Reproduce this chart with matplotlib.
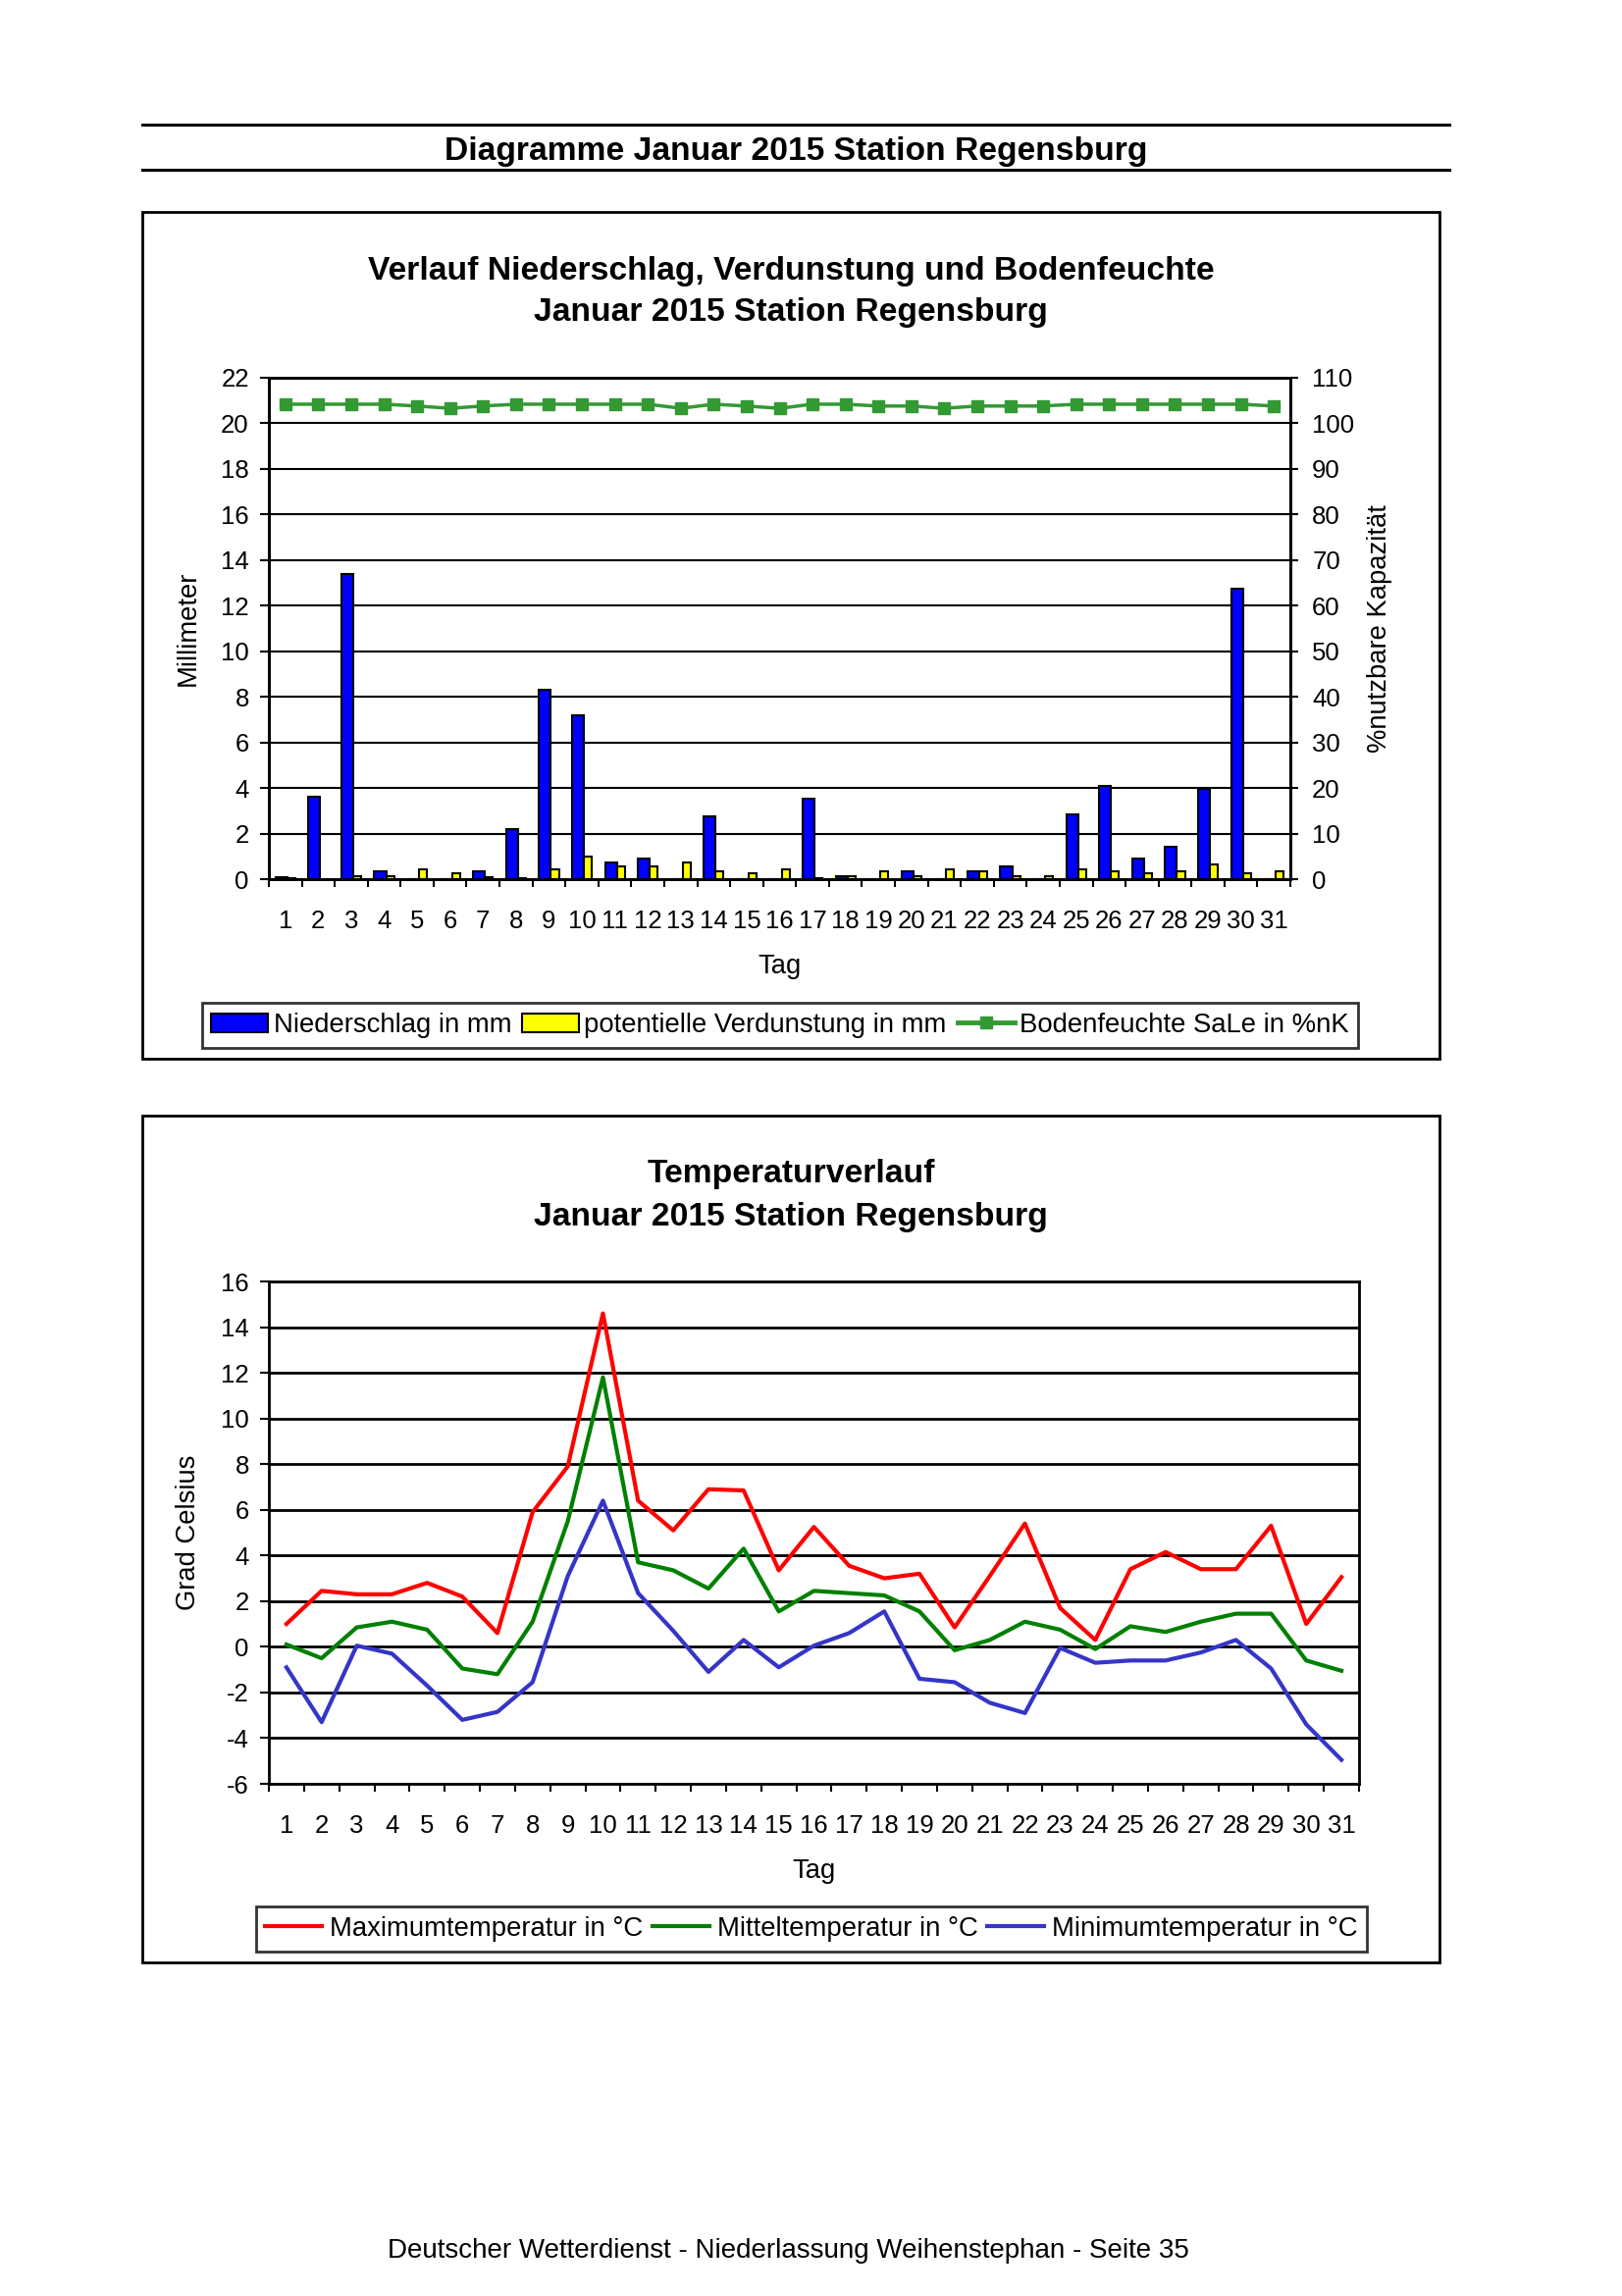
import numpy as np
import matplotlib
matplotlib.use("Agg")
import matplotlib.pyplot as plt
from matplotlib.patches import Rectangle, Patch
from matplotlib.lines import Line2D

plt.rcParams['font.family'] = ['Liberation Sans', 'DejaVu Sans']
plt.rcParams['axes.unicode_minus'] = False

# Daten Januar 2015, Station Regensburg
tage = np.arange(1, 32)
niederschlag = [0.1, 3.6, 13.4, 0.35, 0.0, 0.0, 0.35, 2.2, 8.3, 7.2, 0.75, 0.9, 0.0, 2.75, 0.0, 0.0,
                3.55, 0.15, 0.0, 0.35, 0.0, 0.35, 0.55, 0.0, 2.85, 4.1, 0.9, 1.4, 3.95, 12.75, 0.0]  # [mm]
verdunstung = [0.05, 0.0, 0.15, 0.15, 0.45, 0.25, 0.1, 0.05, 0.45, 1.0, 0.55, 0.55, 0.75, 0.35, 0.25, 0.45,
               0.05, 0.15, 0.35, 0.15, 0.45, 0.35, 0.15, 0.15, 0.45, 0.35, 0.25, 0.35, 0.65, 0.25, 0.35]  # [mm]
bodenfeuchte = [104.2, 104.2, 104.2, 104.2, 103.8, 103.3, 103.8, 104.2, 104.2, 104.2, 104.2, 104.2, 103.3,
                104.2, 103.8, 103.3, 104.2, 104.2, 103.8, 103.8, 103.3, 103.8, 103.8, 103.8, 104.2, 104.2,
                104.2, 104.2, 104.2, 104.2, 103.8]  # [%nK]

t_max = [1.0, 2.45, 2.3, 2.3, 2.8, 2.2, 0.6, 5.9, 7.9, 14.6, 6.4, 5.1, 6.9, 6.85, 3.35, 5.25,
         3.55, 3.0, 3.2, 0.85, 3.1, 5.4, 1.7, 0.3, 3.4, 4.15, 3.4, 3.4, 5.3, 1.0, 3.05]
t_mittel = [0.1, -0.5, 0.85, 1.1, 0.75, -0.95, -1.2, 1.1, 5.5, 11.8, 3.7, 3.35, 2.55, 4.3, 1.55, 2.45,
            2.35, 2.25, 1.55, -0.15, 0.3, 1.1, 0.75, -0.1, 0.9, 0.65, 1.1, 1.45, 1.45, -0.6, -1.05]
t_min = [-0.9, -3.3, 0.05, -0.3, -1.7, -3.2, -2.85, -1.55, 3.1, 6.4, 2.35, 0.7, -1.1, 0.3, -0.9, 0.05,
         0.6, 1.55, -1.4, -1.55, -2.45, -2.9, -0.05, -0.7, -0.6, -0.6, -0.25, 0.3, -0.95, -3.4, -4.95]

W, H = 1653, 2340
TICK_FS = 18.5
LABEL_FS = 19.7
LEG_FS = 19.8
TITLE_FS = 24.2


def fx(px):
    return px / W


def fy(py):
    return 1 - py / H


fig = plt.figure(figsize=(W / 100, H / 100), dpi=100)

# Kopfzeile
for yy in (127, 173):
    fig.add_artist(Line2D([fx(145), fx(1477)], [fy(yy), fy(yy)], transform=fig.transFigure,
                          color='black', lw=2.2))
fig.text(fx(811), fy(154), 'Diagramme Januar 2015 Station Regensburg', ha='center', va='center',
         fontsize=TITLE_FS, fontweight='bold')

# Rahmen
for top, bot in ((216, 1079), (1137, 2000)):
    fig.add_artist(Rectangle((fx(145), fy(bot)), (1467 - 145) / W, (bot - top) / H,
                             transform=fig.transFigure, fill=False, edgecolor='black', lw=2))

# ---------- Diagramm 1: Niederschlag, Verdunstung, Bodenfeuchte ----------
fig.text(fx(806), fy(276), 'Verlauf Niederschlag, Verdunstung und Bodenfeuchte', ha='center',
         va='center', fontsize=TITLE_FS, fontweight='bold')
fig.text(fx(806), fy(319), 'Januar 2015 Station Regensburg', ha='center', va='center',
         fontsize=TITLE_FS, fontweight='bold')

ax1 = fig.add_axes([fx(274), fy(896), (1315 - 274) / W, (896 - 385) / H])
ax1.bar(tage - 0.12, niederschlag, width=0.36, color='#0000ff', edgecolor='black', linewidth=1.5, zorder=3)
ax1.bar(tage + 0.18, verdunstung, width=0.24, color='#ffff00', edgecolor='black', linewidth=1.5, zorder=3)
ax1.set_xlim(0.5, 31.5)
ax1.set_ylim(0, 22)
ax1.set_yticks(np.arange(0, 23, 2))
ax1.set_xticks(tage)
ax1.set_xticks(np.arange(0.5, 32, 1), minor=True)
ax1.yaxis.grid(True, color='black', linewidth=1.5)
ax1.set_axisbelow(True)
ax1.tick_params(axis='x', which='major', length=0, labelsize=TICK_FS, pad=22)
ax1.tick_params(axis='x', which='minor', length=6, width=1.5, direction='out')
ax1.tick_params(axis='y', length=6.5, width=1.5, labelsize=TICK_FS, pad=8)
for s in ax1.spines.values():
    s.set_linewidth(2)
ax1.set_xlabel('Tag', fontsize=LABEL_FS)
ax1.xaxis.set_label_coords(0.5, -0.149)
ax1.set_ylabel('Millimeter', fontsize=LABEL_FS)
ax1.yaxis.set_label_coords(-0.067, 0.5)

ax2 = ax1.twinx()
ax2.plot(tage, bodenfeuchte, color='#339933', lw=2.5, marker='s', markersize=9)
ax2.set_ylim(0, 110)
ax2.set_yticks(np.arange(0, 111, 10))
ax2.tick_params(axis='y', length=6, width=1.5, labelsize=TICK_FS, pad=10)
for s in ax2.spines.values():
    s.set_linewidth(2)
ax2.set_ylabel('%nutzbare Kapazität', fontsize=LABEL_FS)
ax2.yaxis.set_label_coords(1.075, 0.5)

handles1 = [Patch(facecolor='#0000ff', edgecolor='black', linewidth=1.5),
            Patch(facecolor='#ffff00', edgecolor='black', linewidth=1.5),
            Line2D([], [], color='#339933', lw=3.5, marker='s', markersize=9)]
labels1 = ['Niederschlag in mm', 'potentielle Verdunstung in mm', 'Bodenfeuchte SaLe in %nK']
leg1 = fig.legend(handles1, labels1, loc='center', bbox_to_anchor=(fx(795), fy(1045)), ncol=3,
                  fontsize=LEG_FS, frameon=True, fancybox=False, edgecolor='black', handlelength=2.1,
                  handletextpad=0.2, columnspacing=0.4, borderpad=0.35)
leg1.get_frame().set_linewidth(2)

# ---------- Diagramm 2: Temperatur ----------
fig.text(fx(806), fy(1197), 'Temperaturverlauf', ha='center', va='center', fontsize=TITLE_FS,
         fontweight='bold')
fig.text(fx(806), fy(1241), 'Januar 2015 Station Regensburg', ha='center', va='center',
         fontsize=TITLE_FS, fontweight='bold')

ax3 = fig.add_axes([fx(274), fy(1818), (1385 - 274) / W, (1818 - 1306) / H])
ax3.plot(tage, t_max, color='#ff0000', lw=3, label='Maximumtemperatur in °C')
ax3.plot(tage, t_mittel, color='#008000', lw=3, label='Mitteltemperatur in °C')
ax3.plot(tage, t_min, color='#3535c8', lw=3, label='Minimumtemperatur in °C')
ax3.set_xlim(0.5, 31.5)
ax3.set_ylim(-6, 16)
ax3.set_yticks(np.arange(-6, 17, 2))
ax3.set_xticks(tage)
ax3.set_xticks(np.arange(0.5, 32, 1), minor=True)
ax3.yaxis.grid(True, color='black', linewidth=2)
ax3.set_axisbelow(True)
ax3.tick_params(axis='x', which='major', length=0, labelsize=TICK_FS, pad=22)
ax3.tick_params(axis='x', which='minor', length=6, width=1.5, direction='out')
ax3.tick_params(axis='y', length=6.5, width=1.5, labelsize=TICK_FS, pad=8)
for s in ax3.spines.values():
    s.set_linewidth(2)
ax3.set_xlabel('Tag', fontsize=LABEL_FS)
ax3.xaxis.set_label_coords(0.5, -0.148)
ax3.set_ylabel('Grad Celsius', fontsize=LABEL_FS)
ax3.yaxis.set_label_coords(-0.062, 0.5)

h3, l3 = ax3.get_legend_handles_labels()
leg2 = fig.legend(h3, l3, loc='center', bbox_to_anchor=(fx(827), fy(1966)), ncol=3, fontsize=LEG_FS,
                  frameon=True, fancybox=False, edgecolor='black', handlelength=2.1,
                  handletextpad=0.3, columnspacing=0.35, borderpad=0.35)
leg2.get_frame().set_linewidth(2)

# Fusszeile
fig.text(fx(803), fy(2294), 'Deutscher Wetterdienst - Niederlassung Weihenstephan - Seite 35',
         ha='center', va='center', fontsize=20)

fig.savefig('out.png', dpi=100)
